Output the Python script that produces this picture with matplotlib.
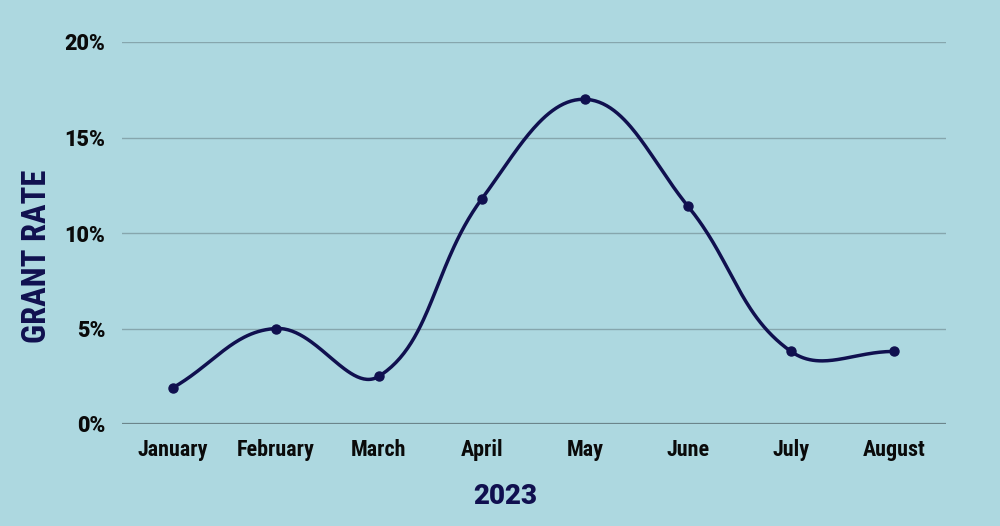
import numpy as np
import matplotlib
matplotlib.use("Agg")
import matplotlib.pyplot as plt
from matplotlib import font_manager as fm

months = ["January", "February", "March", "April", "May", "June", "July", "August"]
grant_rate = [1.9, 5.0, 2.5, 11.8, 17.0, 11.4, 3.8, 3.8]
y_ticks = [0, 5, 10, 15, 20]
y_tick_labels = ["0%", "5%", "10%", "15%", "20%"]
x_title = "2023"
y_title = "GRANT RATE"

names = {f.name for f in fm.fontManager.ttflist}
cond = "Roboto Condensed" if "Roboto Condensed" in names else "Liberation Sans Narrow"
wide = "Roboto" if "Roboto" in names else "Liberation Sans"
COND = [cond, "DejaVu Sans"]
WIDE = [wide, "DejaVu Sans"]
plt.rcParams["font.family"] = COND

BG = "#add8e0"
NAVY = "#10104f"
TXT = "#0a0a0a"
WT = 800

W, H = 1000, 526
fig = plt.figure(figsize=(W / 100, H / 100), dpi=100, facecolor=BG)
ax_l, ax_r, ax_t, ax_b = 121.5, 945.5, 42, 424
ax = fig.add_axes([ax_l / W, 1 - ax_b / H, (ax_r - ax_l) / W, (ax_b - ax_t) / H])
ax.set_facecolor(BG)

n = len(months)
ax.set_xlim(-0.5, n - 0.5)
ax.set_ylim(0, 20)

# Chart.js-style cardinal spline (tension 0.4) computed in pixel space
px_per_x = (ax_r - ax_l) / n
px_per_y = (ax_b - ax_t) / 20.0
xs = np.arange(n, dtype=float)
P = np.column_stack([xs * px_per_x, np.array(grant_rate) * px_per_y])
t = 0.4
cp_prev = np.zeros_like(P)
cp_next = np.zeros_like(P)
for i in range(n):
    prev = P[i - 1] if i > 0 else P[i]
    cur = P[i]
    nxt = P[i + 1] if i < n - 1 else P[i]
    d01 = np.hypot(*(cur - prev))
    d12 = np.hypot(*(nxt - cur))
    s = d01 + d12
    s01 = d01 / s if s else 0
    s12 = d12 / s if s else 0
    cp_prev[i] = cur - t * s01 * (nxt - prev)
    cp_next[i] = cur + t * s12 * (nxt - prev)
curve = []
tt = np.linspace(0, 1, 60)[:, None]
for i in range(n - 1):
    p0, p1, p2, p3 = P[i], cp_next[i], cp_prev[i + 1], P[i + 1]
    seg = (1 - tt) ** 3 * p0 + 3 * (1 - tt) ** 2 * tt * p1 + 3 * (1 - tt) * tt ** 2 * p2 + tt ** 3 * p3
    curve.append(seg)
curve = np.vstack(curve)
ax.plot(curve[:, 0] / px_per_x, curve[:, 1] / px_per_y, color=NAVY, lw=2.5,
        solid_capstyle="round", zorder=3, clip_on=False)
ax.plot(xs, grant_rate, "o", color=NAVY, ms=6.5, zorder=4, clip_on=False)

for v in y_ticks[1:]:
    ax.axhline(v, color="#86a6ad", lw=1.0, zorder=1)
ax.axhline(0, color="#6b858b", lw=1.6, zorder=2)

for s in ax.spines.values():
    s.set_visible(False)
ax.set_xticks(xs)
ax.set_xticklabels(months, fontsize=15.8, fontweight=WT, color=TXT, family=COND)
ax.set_yticks(y_ticks)
ax.set_yticklabels(y_tick_labels, fontsize=15.5, fontweight=WT, color=TXT, family=WIDE)
ax.tick_params(length=0)
ax.tick_params(axis="x", pad=11)
ax.tick_params(axis="y", pad=11.5)

fig.text(37 / W, 1 - 256 / H, y_title, rotation=90, ha="center", va="center",
         fontsize=23.5, fontweight=WT, color=NAVY, family=COND)
fig.text(505 / W, 1 - 497 / H, x_title, ha="center", va="center",
         fontsize=20, fontweight=WT, color=NAVY, family=WIDE)

fig.savefig("out.png", dpi=100, facecolor=BG)
